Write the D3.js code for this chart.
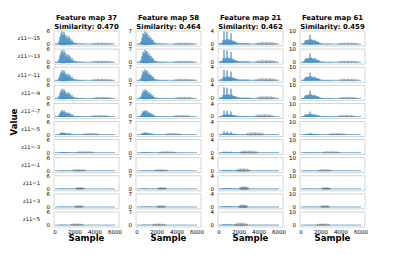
<!DOCTYPE html>
<html>
<head>
<meta charset="utf-8">
<script src="https://cdn.jsdelivr.net/npm/d3@7"></script>
<style>body{margin:0;background:#fff}</style>
</head>
<body>
<script>
// column headers
const featureMaps = [37, 58, 21, 61];
const similarities = ["0.470", "0.464", "0.462", "0.459"];
const yMax = [6, 7, 4, 10];
const rowLabels = ["z11=-15", "z11=-13", "z11=-11", "z11=-9", "z11=-7", "z11=-5",
                   "z11=-3", "z11=-1", "z11=1", "z11=3", "z11=5"];
const sampleTicks = [0, 2000, 4000, 6000];

// blue burst envelope per column, sampled every 100 samples from 0 to 3000 (relative)
const blueShapes = [
  [0.02,0.02,0.03,0.05,0.25,0.55,0.8,1.0,0.7,0.95,0.75,0.5,0.65,0.4,0.6,0.45,0.2,0.35,0.15,0.12,0.08,0.06,0.05,0.04,0.03,0.03,0.03,0.02,0.02,0.02,0.02],
  [0.02,0.02,0.03,0.06,0.2,0.5,0.85,0.7,1.0,0.8,0.9,0.55,0.7,0.45,0.5,0.3,0.35,0.15,0.1,0.07,0.05,0.04,0.03,0.03,0.03,0.02,0.02,0.02,0.02,0.02,0.02],
  [0.05,0.05,0.08,0.1,0.3,1.0,0.3,0.35,0.95,0.4,0.3,0.35,0.85,0.3,0.25,0.2,0.2,0.15,0.1,0.08,0.06,0.05,0.05,0.05,0.05,0.05,0.05,0.05,0.05,0.05,0.05],
  [0.02,0.02,0.03,0.1,0.3,0.35,0.4,0.35,0.4,0.85,0.45,0.4,0.35,0.3,0.4,0.25,0.2,0.25,0.15,0.1,0.06,0.04,0.03,0.03,0.03,0.02,0.02,0.02,0.02,0.02,0.02]
];
// peak of the blue burst per row (data units), one list per column
const blueAmps = [
  [6.0, 5.8, 4.8, 4.5, 3.0, 1.0, 0.3, 0.2, 0.15, 0.15, 0.15],
  [7.0, 6.8, 6.0, 5.0, 3.5, 1.2, 0.3, 0.2, 0.2, 0.2, 0.2],
  [4.0, 3.8, 3.2, 3.5, 1.8, 1.0, 0.4, 0.3, 0.3, 0.3, 0.3],
  [8.5, 8.0, 7.0, 7.0, 4.5, 1.5, 0.4, 0.3, 0.3, 0.3, 0.3]
];
// gray cluster per row
const grayCenters = [4700, 4700, 4700, 4700, 4500, 3600, 3000, 2400, 2500, 2400, 2200];
const graySpans = [2000, 2000, 2000, 1800, 1800, 1700, 1800, 1400, 900, 900, 1300];
const grayShape = [0.3,0.6,0.5,0.9,0.7,1.0,0.6,0.8,0.95,0.7,0.85,0.6,0.9,0.5,0.6,0.3];
const grayAmps = [0.8, 0.9, 0.8, 1.3];
// light blue floor band height per column
const floorLevels = [0.35, 0.4, 0.35, 0.6];

const W = 407, H = 255;
const cellW = 65, cellH = 15, colStep = 82, rowStep = 18.1, left0 = 54, top0 = 31;
const blue = "#1f77b4";

const svg = d3.select("body").append("svg")
  .attr("width", W).attr("height", H)
  .style("font-family", "DejaVu Sans, sans-serif");

featureMaps.forEach((fm, c) => {
  const left = left0 + c * colStep;
  const x = d3.scaleLinear().domain([-100, 6400]).range([left, left + cellW]);

  // column title, two lines
  svg.append("text")
    .attr("x", left + cellW / 2).attr("y", 20.4)
    .attr("text-anchor", "middle")
    .style("font-size", "6.9px").style("font-weight", "bold")
    .text(`Feature map ${fm}`);
  svg.append("text")
    .attr("x", left + cellW / 2).attr("y", 28.5)
    .attr("text-anchor", "middle")
    .style("font-size", "6.9px").style("font-weight", "bold")
    .text(`Similarity: ${similarities[c]}`);

  rowLabels.forEach((lab, r) => {
    const top = top0 + r * rowStep;
    const m = yMax[c];
    const y = d3.scaleLinear().domain([-0.15 * m, 1.02 * m]).range([top + cellH, top]);
    const g = svg.append("g");

    // floor band
    g.append("rect")
      .attr("x", x(0)).attr("width", x(6000) - x(0))
      .attr("y", y(floorLevels[c] * 0.5)).attr("height", y(-floorLevels[c] * 0.5) - y(floorLevels[c] * 0.5))
      .attr("fill", blue).attr("fill-opacity", 0.25);

    // blue burst
    const pts = blueShapes[c].map((v, i) => [i * 100, v * blueAmps[c][r]]);
    g.append("path")
      .attr("d", d3.area().x(d => x(d[0])).y0(y(0)).y1(d => y(d[1])).curve(d3.curveStep)(pts))
      .attr("fill", blue).attr("fill-opacity", 0.3);
    g.append("path")
      .attr("d", pts.map(d => `M${x(d[0])},${y(-d[1] * 0.1)}V${y(d[1])}`).join(""))
      .attr("stroke", blue).attr("stroke-width", 0.8);
    g.append("line")
      .attr("x1", x(0)).attr("x2", x(6000)).attr("y1", y(0)).attr("y2", y(0))
      .attr("stroke", blue).attr("stroke-width", 0.6).attr("stroke-opacity", 0.8);

    // gray cluster
    const gs = graySpans[r], gc = grayCenters[r];
    const gpts = grayShape.map((v, i) => [gc - gs / 2 + i * gs / (grayShape.length - 1), v * grayAmps[c]]);
    g.append("path")
      .attr("d", gpts.map(d => `M${x(d[0])},${y(-d[1] * 0.4)}V${y(d[1])}`).join(""))
      .attr("stroke", "#555").attr("stroke-width", 0.6).attr("stroke-opacity", 0.8);

    // frame
    g.append("rect")
      .attr("x", left).attr("y", top).attr("width", cellW).attr("height", cellH)
      .attr("fill", "none").attr("stroke", "#d0d0d0").attr("stroke-width", 0.9);

    // y ticks
    [0, m].forEach(t => {
      g.append("text")
        .attr("x", left - 4).attr("y", y(t)).attr("dy", "0.35em")
        .attr("text-anchor", "end").style("font-size", "5.5px")
        .text(t);
    });

    if (c === 0) {
      svg.append("text")
        .attr("x", 40).attr("y", top + cellH / 2).attr("dy", "0.35em")
        .attr("text-anchor", "end").style("font-size", "5.2px")
        .text(lab);
    }

    if (r === rowLabels.length - 1) {
      sampleTicks.forEach(t => {
        svg.append("text")
          .attr("x", x(t)).attr("y", top + cellH + 6.5)
          .attr("text-anchor", "middle").style("font-size", "5.5px")
          .text(t);
      });
      svg.append("text")
        .attr("x", left + cellW / 2).attr("y", 241)
        .attr("text-anchor", "middle")
        .style("font-size", "8.6px").style("font-weight", "bold")
        .text("Sample");
    }
  });
});

svg.append("text")
  .attr("transform", "translate(17,122) rotate(-90)")
  .attr("text-anchor", "middle")
  .style("font-size", "8.6px").style("font-weight", "bold")
  .text("Value");
</script>
</body>
</html>
